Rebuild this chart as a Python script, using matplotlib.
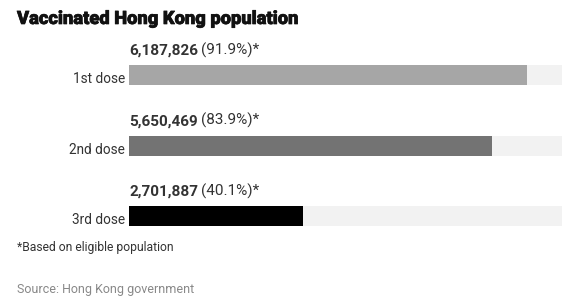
import matplotlib
matplotlib.use("Agg")
import matplotlib.pyplot as plt
import matplotlib.patheffects as pe
import matplotlib.transforms as mtransforms

# data
doses = ["1st dose", "2nd dose", "3rd dose"]
counts = [6187826, 5650469, 2701887]
percents = [91.9, 83.9, 40.1]
colors = ["#a6a6a6", "#737373", "#000000"]

plt.rcParams["font.family"] = ["Roboto", "DejaVu Sans"]

W, H = 579, 307
fig = plt.figure(figsize=(W / 100, H / 100), dpi=100)

# axes placed in pixel terms
left, right, top, bottom = 129, 562, 40, 240
ax = fig.add_axes([left / W, 1 - bottom / H, (right - left) / W, (bottom - top) / H])
ypos = list(range(len(doses)))
bar_h = 20 / 70.5

ax.barh(ypos, [100] * len(doses), height=bar_h, color="#f2f2f2", linewidth=0)
ax.barh(ypos, percents, height=bar_h, color=colors, linewidth=0)
ax.set_xlim(0, 100)
ax.set_ylim(2 + 24 / 70.5, -35 / 70.5)
ax.set_yticks(ypos)
ax.set_yticklabels(doses, fontsize=9.8, color="#333333")
ax.tick_params(axis="y", length=0, pad=3)
ax.set_xticks([])
for s in ax.spines.values():
    s.set_visible(False)
# nudge category labels down a little
shift = mtransforms.ScaledTranslation(0, -2.5 / 100, fig.dpi_scale_trans)
for lab in ax.get_yticklabels():
    lab.set_transform(lab.get_transform() + shift)

fig.canvas.draw()
renderer = fig.canvas.get_renderer()
for y, c, p in zip(ypos, counts, percents):
    t = ax.text(0, y - bar_h / 2 - 0.1, f"{c:,}", fontsize=11, fontweight="bold",
                color="#333333", va="bottom", ha="left")
    bb = t.get_window_extent(renderer)
    x2 = ax.transData.inverted().transform((bb.x1 + 3, bb.y0))[0]
    ax.text(x2, y - bar_h / 2 - 0.1, f"({p}%)*", fontsize=11,
            color="#333333", va="bottom", ha="left")

fig.text(17 / W, 1 - 19 / H, "Vaccinated Hong Kong population", fontsize=13.2,
         fontweight="heavy", color="#111111", va="center", ha="left",
         path_effects=[pe.withStroke(linewidth=0.5, foreground="#111111")])
fig.text(17 / W, 1 - 247 / H, "*Based on eligible population", fontsize=8.75,
         color="#333333", va="center", ha="left")
fig.text(17 / W, 1 - 290 / H, "Source: Hong Kong government", fontsize=9,
         color="#888888", va="center", ha="left")

fig.savefig("out.png", dpi=100, facecolor="white")
